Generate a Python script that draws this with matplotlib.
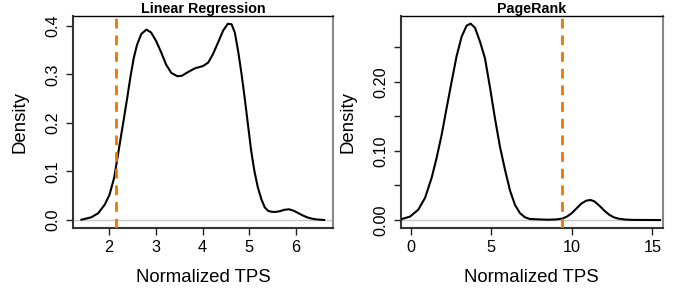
import numpy as np
import matplotlib
matplotlib.use("Agg")
import matplotlib.pyplot as plt

plt.rcParams['font.family'] = ['Liberation Sans', 'DejaVu Sans']

# Linear Regression density curve
lr_x = [1.41, 1.62, 1.77, 1.91, 2.01, 2.11, 2.18, 2.25, 2.32, 2.39, 2.46, 2.53, 2.60, 2.69,
        2.80, 2.90, 3.01, 3.12, 3.22, 3.33, 3.46, 3.56, 3.66, 3.83, 4.01, 4.12, 4.22, 4.33,
        4.44, 4.54, 4.62, 4.69, 4.76, 4.83, 4.90, 4.97, 5.04, 5.11, 5.18, 5.26, 5.33, 5.40,
        5.47, 5.55, 5.65, 5.75, 5.85, 5.95, 6.05, 6.15, 6.25, 6.35, 6.45, 6.6]
lr_y = [0.0006, 0.0055, 0.014, 0.032, 0.052, 0.087, 0.128, 0.169, 0.21, 0.252, 0.296, 0.334,
        0.361, 0.383, 0.392, 0.386, 0.368, 0.344, 0.32, 0.303, 0.296, 0.297, 0.303, 0.312,
        0.317, 0.324, 0.341, 0.365, 0.39, 0.404, 0.403, 0.386, 0.348, 0.303, 0.252, 0.197,
        0.142, 0.10, 0.068, 0.042, 0.026, 0.019, 0.017, 0.0165, 0.018, 0.021, 0.022, 0.019,
        0.014, 0.009, 0.005, 0.0025, 0.001, 0.0]
lr_cut = 2.15

# PageRank density curve
pr_x = [-0.56, -0.04, 0.47, 0.89, 1.30, 1.61, 1.92, 2.23, 2.54, 2.85, 3.16, 3.47, 3.72,
        3.99, 4.30, 4.61, 4.92, 5.23, 5.54, 5.85, 6.16, 6.47, 6.78, 7.09, 7.40, 7.9, 8.5,
        9.0, 9.4, 9.7, 10.0, 10.3, 10.6, 10.9, 11.15, 11.4, 11.7, 12.0, 12.3, 12.6, 12.9,
        13.3, 13.8, 15.47]
pr_y = [0.0014, 0.005, 0.015, 0.032, 0.061, 0.09, 0.123, 0.162, 0.20, 0.237, 0.265, 0.281,
        0.284, 0.278, 0.258, 0.234, 0.192, 0.147, 0.106, 0.073, 0.043, 0.022, 0.010, 0.004,
        0.0015, 0.001, 0.0005, 0.0008, 0.002, 0.005, 0.010, 0.017, 0.024, 0.028, 0.029,
        0.027, 0.021, 0.014, 0.008, 0.004, 0.002, 0.0007, 0.0002, 0.0]
pr_cut = 9.38

panels = [
    ("Linear Regression", lr_x, lr_y, lr_cut, [2, 3, 4, 5, 6], (1.23, 6.79),
     [0.0, 0.1, 0.2, 0.3, 0.4], ["0.0", "0.1", "0.2", "0.3", "0.4"], (-0.0165, 0.42)),
    ("PageRank", pr_x, pr_y, pr_cut, [0, 5, 10, 15], (-0.62, 15.66),
     [0.0, 0.05, 0.10, 0.15, 0.20, 0.25], ["0.00", "", "0.10", "", "0.20", ""], (-0.0115, 0.295)),
]
rects = [[0.1077, 0.2165, 0.3835, 0.7285], [0.591, 0.2165, 0.3869, 0.7285]]

fig = plt.figure(figsize=(6.78, 2.91), dpi=100)
for rect, (title, xs, ys, cut, xt, xl, yt, ytl, yl) in zip(rects, panels):
    ax = fig.add_axes(rect)
    ax.axhline(0, color="#c8c8c8", lw=1.0, zorder=1)
    ax.plot(xs, ys, color="black", lw=1.5, zorder=3, solid_joinstyle="round")
    ax.axvline(cut, color="#EE7600", lw=2.0, ls=(0, (3.5, 2.5)), zorder=4)
    ax.set_xlim(*xl)
    ax.set_ylim(*yl)
    ax.set_xticks(xt)
    ax.set_yticks(yt)
    ax.set_yticklabels(ytl, rotation=90, va="center")
    ax.tick_params(labelsize=11.7, length=5, width=1, pad=4, colors="#222222", labelcolor="black")
    ax.set_xlabel("Normalized TPS", fontsize=13.4, labelpad=10)
    ax.set_ylabel("Density", fontsize=13.4, labelpad=12)
    ax.set_title(title, fontsize=10.3, fontweight="bold", pad=2)
    ax.spines["top"].set_color("black")
    ax.spines["top"].set_linewidth(1.0)
    ax.spines["right"].set_color("#888888")
    ax.spines["right"].set_linewidth(1.5)
    ax.spines["left"].set_color("#333333")
    ax.spines["left"].set_linewidth(1.5)
    ax.spines["bottom"].set_color("#333333")
    ax.spines["bottom"].set_linewidth(1.5)

fig.savefig("out.png", dpi=100)
